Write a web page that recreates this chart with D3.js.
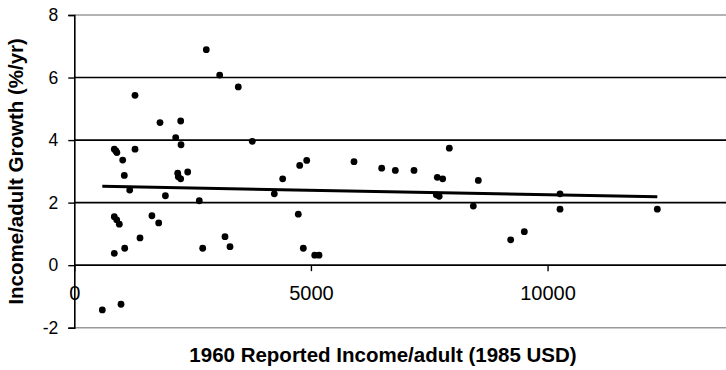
<!DOCTYPE html>
<html>
<head>
<meta charset="utf-8">
<script src="https://cdn.jsdelivr.net/npm/d3@7"></script>
<style>
  body { margin: 0; background: #fff; }
  text { font-family: "Liberation Sans", Arial, sans-serif; }
</style>
</head>
<body>
<script>
// 1960 income per adult (1985 USD) vs later growth rate
const incomeValues = [592, 987, 845, 1065, 1388, 845, 896, 951, 1640, 1783, 1171, 1925, 1057, 1023, 845, 880, 900, 1283, 1283, 1811,
                      2248, 2143, 2255, 2185, 2198, 2248, 2396, 2641, 2713, 2789, 3072, 3465, 3761, 3184, 3290, 4226, 4403, 4763, 4911, 4733,
                      4839, 5080, 5171, 5910, 6495, 6783, 7178, 7670, 7784, 7924, 7650, 7710, 8537, 8431, 10263, 10263, 9221, 9509, 12319]
const growthValues = [-1.43, -1.25, 0.38, 0.54, 0.87, 1.55, 1.45, 1.31, 1.58, 1.35, 2.40, 2.22, 2.87, 3.36, 3.71, 3.65, 3.60, 3.71, 5.43, 4.56,
                      4.61, 4.08, 3.85, 2.94, 2.83, 2.76, 2.98, 2.06, 0.54, 6.89, 6.08, 5.70, 3.96, 0.91, 0.59, 2.28, 2.76, 3.19, 3.35, 1.63,
                      0.54, 0.32, 0.32, 3.31, 3.10, 3.03, 3.03, 2.81, 2.76, 3.74, 2.25, 2.20, 2.71, 1.89, 2.28, 1.79, 0.81, 1.07, 1.79]
const trendIncome = [592, 12319]
const trendGrowth = [2.52, 2.19]
const yTicks = [-2, 0, 2, 4, 6, 8]
const xTicks = [0, 5000, 10000]

const mainFunction = () => {
    const width = 726
    const height = 370

    const svg = d3.select('body').append('svg').attr('width', width).attr('height', height)

    const xScale = d3.scaleLinear().domain([0, 13800]).range([74.3, 727.4])
    const yScale = d3.scaleLinear().domain([-2, 8]).range([327.7, 15])

    // horizontal lines: grey frame at top and bottom, black gridlines between
    svg.append('g').selectAll('line').data(yTicks).enter().append('line')
        .attr('x1', xScale(0)).attr('x2', xScale.range()[1])
        .attr('y1', (d) => yScale(d)).attr('y2', (d) => yScale(d))
        .attr('stroke', (d) => (d === 8 || d === -2) ? '#9a9a9a' : '#000')
        .attr('stroke-width', 1.6)

    // y axis
    const yAxis = d3.axisLeft(yScale).tickValues(yTicks).tickSize(6).tickPadding(10).tickFormat(d3.format('d'))
    const yG = svg.append('g').attr('transform', `translate(${xScale(0)},0)`).call(yAxis)
    yG.select('.domain').attr('stroke', '#000').attr('stroke-width', 1.6)
    yG.selectAll('.tick line').attr('stroke', '#000').attr('stroke-width', 1.4)
    yG.selectAll('.tick text').attr('font-size', 17.5).attr('fill', '#000')
        .text((d) => d < 0 ? '-' + Math.abs(d) : d)

    // x axis sits on the zero line
    const xAxis = d3.axisBottom(xScale).tickValues(xTicks).tickSize(6).tickPadding(15).tickFormat((d) => d)
    const xG = svg.append('g').attr('transform', `translate(0,${yScale(0)})`).call(xAxis)
    xG.select('.domain').remove()
    xG.selectAll('.tick line').attr('stroke', '#000').attr('stroke-width', 1.4)
    xG.selectAll('.tick text').attr('font-size', 20).attr('fill', '#000')

    // trend line
    const trendLine = d3.line().x((d) => xScale(d[0])).y((d) => yScale(d[1]))
    svg.append('path')
        .datum(d3.zip(trendIncome, trendGrowth))
        .attr('d', trendLine)
        .attr('fill', 'none')
        .attr('stroke', '#000')
        .attr('stroke-width', 3)

    // points
    svg.append('g').selectAll('circle').data(d3.zip(incomeValues, growthValues)).enter().append('circle')
        .attr('cx', (d) => xScale(d[0]))
        .attr('cy', (d) => yScale(d[1]))
        .attr('r', 3.4)
        .attr('fill', '#000')

    // axis titles
    svg.append('text')
        .attr('transform', `translate(23,${(yScale(8) + yScale(-2)) / 2}) rotate(-90)`)
        .attr('text-anchor', 'middle')
        .attr('font-size', 20.5).attr('font-weight', 'bold')
        .text('Income/adult Growth (%/yr)')

    svg.append('text')
        .attr('x', 383).attr('y', 362)
        .attr('text-anchor', 'middle')
        .attr('font-size', 20.5).attr('font-weight', 'bold')
        .text('1960 Reported Income/adult (1985 USD)')
}

document.addEventListener('DOMContentLoaded', mainFunction)
</script>
</body>
</html>
